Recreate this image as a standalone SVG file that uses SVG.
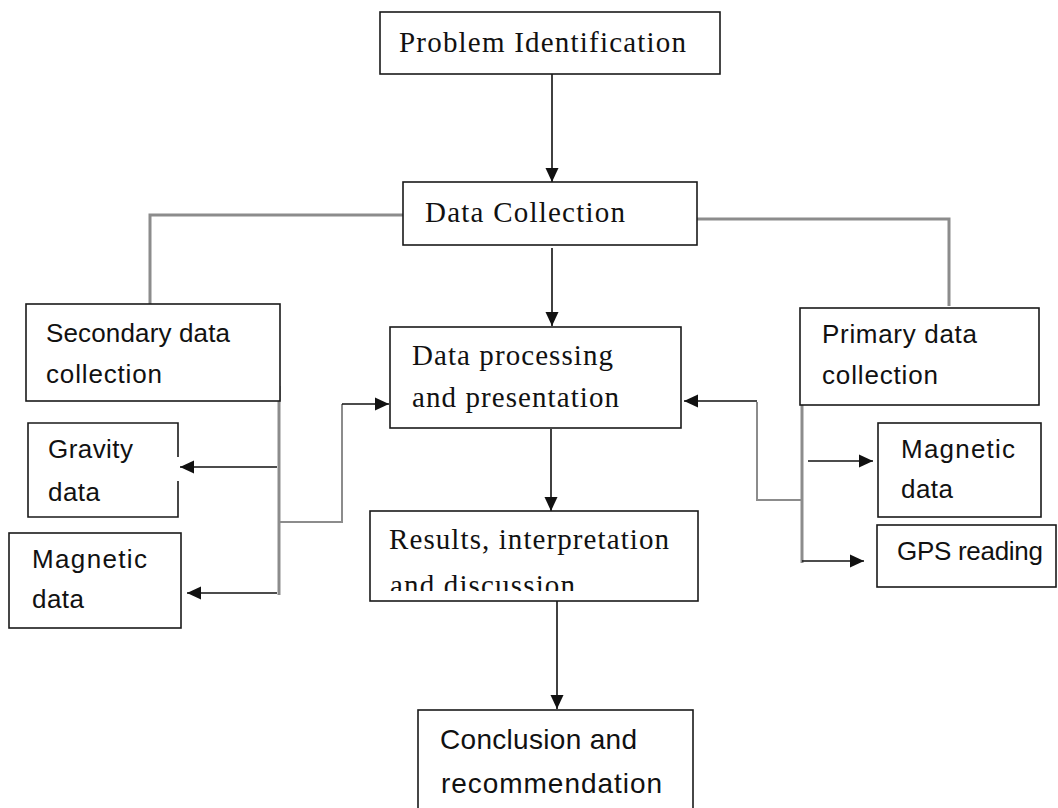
<svg xmlns="http://www.w3.org/2000/svg" width="1058" height="808" viewBox="0 0 1058 808">
<style>
.box{fill:#fff;stroke:#1a1a1a;stroke-width:1.6}
.edge{fill:none;stroke:#1a1a1a;stroke-width:1.6}
.gray{fill:none;stroke:#8c8c8c;stroke-width:3}
.gray2{fill:none;stroke:#8c8c8c;stroke-width:2}
.arr{fill:none;stroke:#111;stroke-width:1.6}
.serif{font-family:"Liberation Serif","Times New Roman",serif;font-size:29px;fill:#111}
.sans{font-family:"Liberation Sans",Arial,sans-serif;font-size:26px;fill:#111}
.sansL{font-family:"Liberation Sans",Arial,sans-serif;font-size:28px;fill:#111}
</style>
<defs>
<marker id="ah" markerUnits="userSpaceOnUse" markerWidth="15" markerHeight="15" viewBox="0 0 15 15" refX="14" refY="7.5" orient="auto">
<path d="M0,1 L14,7.5 L0,14 Z" fill="#111"/>
</marker>
<clipPath id="clipRes"><rect x="370" y="511" width="330" height="80"/></clipPath>
</defs>
<rect width="1058" height="808" fill="#fff"/>

<g id="connectors">
<path class="arr" d="M552 74 V182" marker-end="url(#ah)"/>
<path class="arr" d="M552 248 V326" marker-end="url(#ah)"/>
<path class="arr" d="M551 429 V511" marker-end="url(#ah)"/>
<path class="arr" d="M557 601 V709" marker-end="url(#ah)"/>
<path class="gray" d="M403 215 H150 V304"/>
<path class="gray" d="M697 219 H949 V306"/>
<path class="gray" d="M279 386 V595"/>
<path class="gray2" d="M279 522 H342 V404"/>
<path class="arr" d="M342 404 H389" marker-end="url(#ah)"/>
<path class="arr" d="M277 467 H180" marker-end="url(#ah)"/>
<path class="arr" d="M277 593 H187" marker-end="url(#ah)"/>
<path class="gray" d="M802 400 V563"/>
<path class="gray2" d="M802 500 H757 V402"/>
<path class="arr" d="M757 401 H684" marker-end="url(#ah)"/>
<path class="arr" d="M808 461 H873" marker-end="url(#ah)"/>
<path class="arr" d="M802 561 H864" marker-end="url(#ah)"/>
</g>

<g id="problem">
<rect class="box" x="380" y="12" width="340" height="62"/>
<text class="serif" x="399" y="52" textLength="287" lengthAdjust="spacing">Problem Identification</text>
</g>

<g id="datacollection">
<rect class="box" x="403" y="182" width="294" height="63"/>
<text class="serif" x="425" y="222" textLength="200" lengthAdjust="spacing">Data Collection</text>
</g>

<g id="secondary">
<rect class="box" x="26" y="304" width="254" height="97"/>
<text class="sans" x="46" y="342" textLength="184" lengthAdjust="spacing">Secondary data</text>
<text class="sans" x="46" y="383" textLength="116" lengthAdjust="spacing">collection</text>
</g>

<g id="gravity">
<path class="edge" d="M178 457 V423 H28 V517 H178 V481"/>
<text class="sans" x="48" y="458" textLength="85" lengthAdjust="spacing">Gravity</text>
<text class="sans" x="48" y="501" textLength="52" lengthAdjust="spacing">data</text>
</g>

<g id="magnetic-left">
<rect class="box" x="9" y="533" width="172" height="95"/>
<text class="sans" x="32" y="568" textLength="115" lengthAdjust="spacing">Magnetic</text>
<text class="sans" x="32" y="608" textLength="52" lengthAdjust="spacing">data</text>
</g>

<g id="processing">
<rect class="box" x="390" y="327" width="291" height="101"/>
<text class="serif" x="412" y="365" textLength="201" lengthAdjust="spacing">Data processing</text>
<text class="serif" x="412" y="407" textLength="207" lengthAdjust="spacing">and presentation</text>
</g>

<g id="primary">
<rect class="box" x="800" y="308" width="239" height="97"/>
<text class="sans" x="822" y="343" textLength="155" lengthAdjust="spacing">Primary data</text>
<text class="sans" x="822" y="384" textLength="116" lengthAdjust="spacing">collection</text>
</g>

<g id="magnetic-right">
<rect class="box" x="878" y="423" width="163" height="94"/>
<text class="sans" x="901" y="458" textLength="114" lengthAdjust="spacing">Magnetic</text>
<text class="sans" x="901" y="498" textLength="52" lengthAdjust="spacing">data</text>
</g>

<g id="gps">
<rect class="box" x="877" y="525" width="179" height="62"/>
<text class="sans" x="897" y="560" textLength="146" lengthAdjust="spacing">GPS reading</text>
</g>

<g id="results">
<rect class="box" x="370" y="511" width="328" height="90"/>
<text class="serif" x="389" y="549" textLength="280" lengthAdjust="spacing">Results, interpretation</text>
<text class="serif" x="390" y="595" textLength="185" lengthAdjust="spacing" clip-path="url(#clipRes)">and discussion</text>
</g>

<g id="conclusion">
<rect class="box" x="418" y="710" width="275" height="110"/>
<text class="sansL" x="440" y="749" textLength="197" lengthAdjust="spacing">Conclusion and</text>
<text class="sansL" x="441" y="793" textLength="221" lengthAdjust="spacing">recommendation</text>
</g>
</svg>
